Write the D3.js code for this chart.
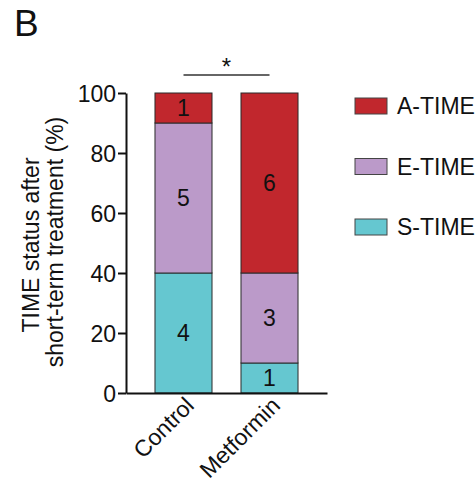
<!DOCTYPE html>
<html><head><meta charset="utf-8">
<script src="https://cdn.jsdelivr.net/npm/d3@7"></script>
<style>body{margin:0;background:#fff}svg{display:block;font-family:Arial,"Liberation Sans",sans-serif}</style>
</head><body><svg id="c" width="476" height="485"></svg>
<script>
const groups = ["Control", "Metformin"];
const statuses = ["S-TIME", "E-TIME", "A-TIME"];
const counts = {
  "Control":   [4, 5, 1],
  "Metformin": [1, 3, 6]
};
const yTicks = [0, 20, 40, 60, 80, 100];
const colors = ["#65c7d0", "#bb9ac9", "#c1272d"];
const legendOrder = ["A-TIME", "E-TIME", "S-TIME"];

const FONT = "Arial, 'Liberation Sans', sans-serif";
const svg = d3.select("#c");
const x = d3.scaleBand().domain(groups).range([126, 327]).paddingInner(0.337).paddingOuter(0.337);
const y = d3.scaleLinear().domain([0, 100]).range([393, 93]);
const color = d3.scaleOrdinal().domain(statuses).range(colors);

const rows = groups.map(g => {
  const tot = d3.sum(counts[g]);
  const o = {group: g};
  statuses.forEach((s, i) => { o[s] = counts[g][i] / tot * 100; o[s + "_n"] = counts[g][i]; });
  return o;
});
const stack = d3.stack().keys(statuses)(rows);

const gBars = svg.append("g");
stack.forEach(layer => {
  layer.forEach(d => {
    gBars.append("rect")
      .attr("x", x(d.data.group)).attr("width", x.bandwidth())
      .attr("y", y(d[1])).attr("height", y(d[0]) - y(d[1]))
      .attr("fill", color(layer.key)).attr("stroke", "#2a2a2a").attr("stroke-width", 1);
    gBars.append("text")
      .attr("x", x(d.data.group) + x.bandwidth() / 2)
      .attr("y", (y(d[0]) + y(d[1])) / 2 + 8)
      .attr("text-anchor", "middle").attr("font-size", 23).attr("fill", "#111")
      .text(d.data[layer.key + "_n"]);
  });
});

const yAxis = svg.append("g").attr("transform", "translate(126,0)")
  .call(d3.axisLeft(y).tickValues(yTicks).tickSize(8).tickPadding(2).tickSizeOuter(0));
yAxis.select(".domain").attr("stroke", "#111").attr("stroke-width", 2);
yAxis.selectAll(".tick line").attr("stroke", "#111").attr("stroke-width", 2);
yAxis.selectAll(".tick text").attr("font-size", 23).attr("fill", "#111").attr("font-family", FONT).attr("dy", "0.35em");

const xAxis = svg.append("g").attr("transform", "translate(0,393)")
  .call(d3.axisBottom(x).tickSize(0).tickSizeOuter(0).tickFormat(""));
xAxis.select(".domain").attr("stroke", "#111").attr("stroke-width", 2);
xAxis.selectAll(".tick").each(function(g) {
  d3.select(this).append("text")
    .attr("transform", `translate(${12},${14}) rotate(-45)`)
    .attr("text-anchor", "end").attr("font-size", 23).attr("fill", "#111")
    .attr("font-family", FONT)
    .text(g);
});

svg.append("text").attr("transform", "translate(39,245) rotate(-90)")
  .attr("text-anchor", "middle").attr("font-size", 23).attr("fill", "#111")
  .text("TIME status after");
svg.append("text").attr("transform", "translate(63,242) rotate(-90)")
  .attr("text-anchor", "middle").attr("font-size", 23).attr("fill", "#111")
  .text("short-term treatment (%)");

svg.append("text").attr("x", 14).attr("y", 36).attr("font-size", 37).attr("fill", "#111").text("B");

const c0 = x("Control") + x.bandwidth() / 2, c1 = x("Metformin") + x.bandwidth() / 2;
svg.append("line").attr("x1", c0).attr("x2", c1).attr("y1", 75).attr("y2", 75)
  .attr("stroke", "#333").attr("stroke-width", 1.5);
svg.append("text").attr("x", (c0 + c1) / 2).attr("y", 75).attr("text-anchor", "middle")
  .attr("font-size", 24).attr("fill", "#111").text("*");

const lg = svg.append("g");
legendOrder.forEach((s, i) => {
  const yy = 98 + i * 60.5;
  lg.append("rect").attr("x", 355).attr("y", yy).attr("width", 32).attr("height", 16)
    .attr("fill", color(s)).attr("stroke", "#444").attr("stroke-width", 1);
  lg.append("text").attr("x", 397).attr("y", yy + 16).attr("font-size", 23).attr("fill", "#111").text(s);
});
</script></body></html>
